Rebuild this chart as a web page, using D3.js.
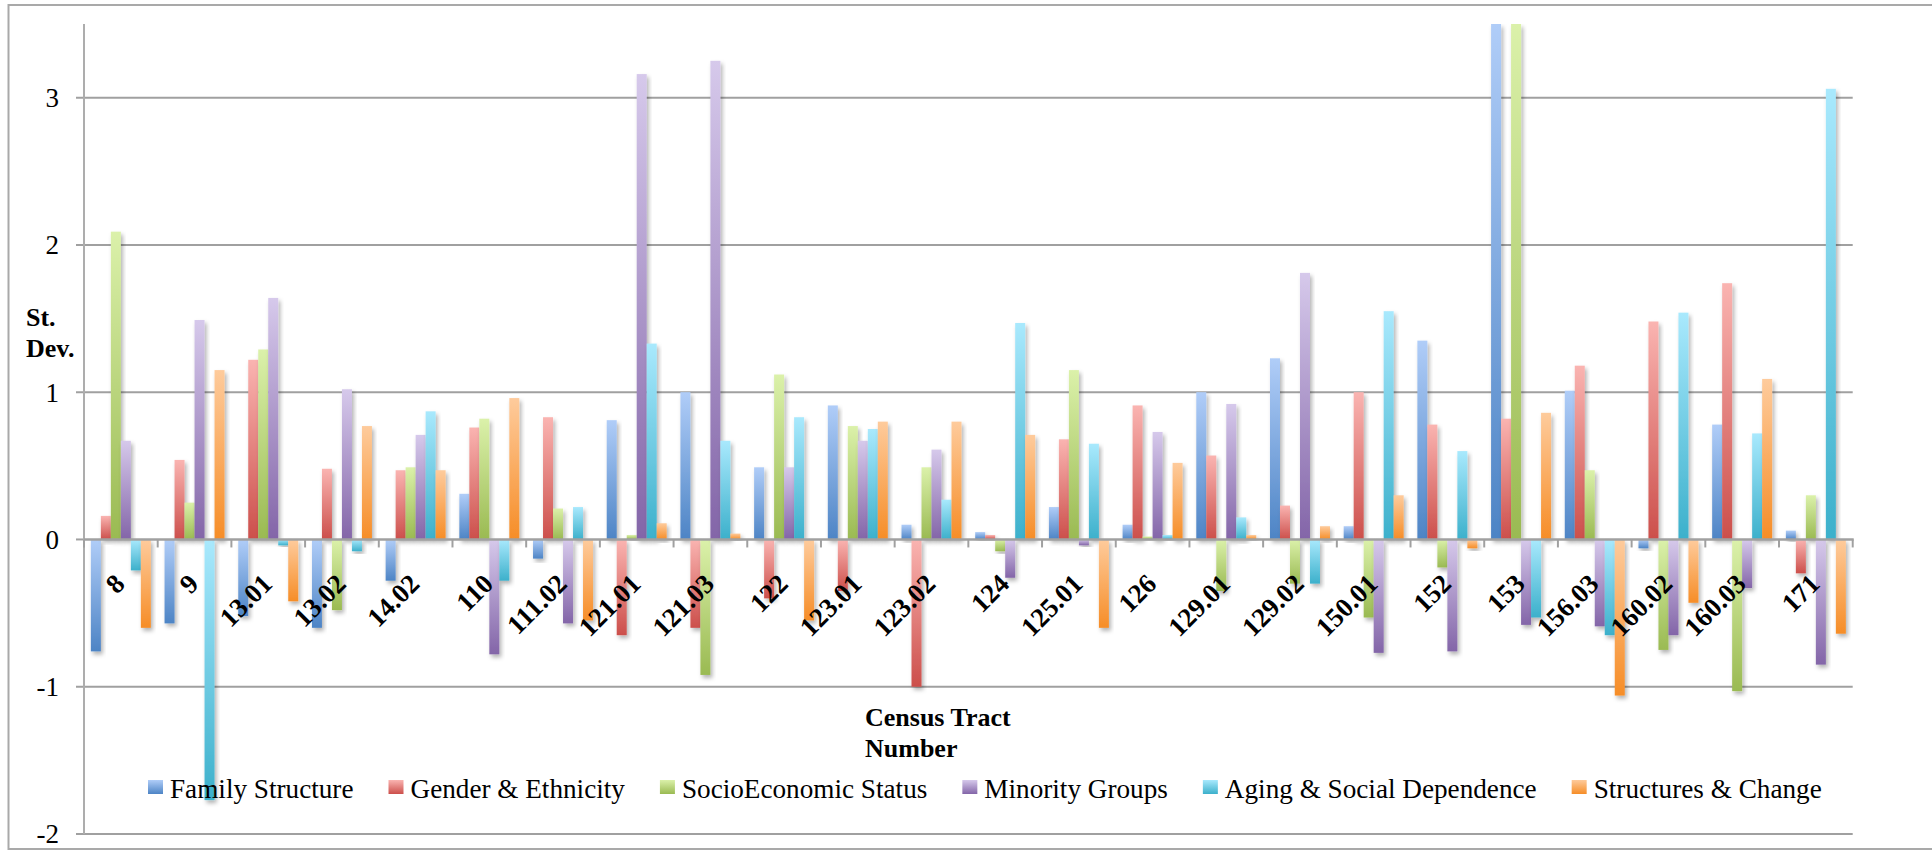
<!DOCTYPE html>
<html>
<head>
<meta charset="utf-8">
<script src="https://cdn.jsdelivr.net/npm/d3@7"></script>
<style>
  html, body { margin: 0; padding: 0; background: #ffffff; }
  svg { display: block; }
</style>
</head>
<body>
<svg id="chart" width="1932" height="850"></svg>
<script>
// Census tract numbers along the x axis
const categories = ["8","9","13.01","13.02","14.02","110","111.02","121.01","121.03","122","123.01","123.02","124","125.01","126","129.01","129.02","150.01","152","153","156.03","160.02","160.03","171"];

// Standardised factor scores (standard deviations) per tract
const familyStructure  = [-0.76,-0.57,-0.52,-0.60,-0.28, 0.31,-0.13, 0.81, 1.00, 0.49, 0.91, 0.10, 0.05, 0.22, 0.10, 1.00, 1.23, 0.09, 1.35, 3.50, 1.01,-0.06, 0.78, 0.06];
const genderEthnicity  = [ 0.16, 0.54, 1.22, 0.48, 0.47, 0.76, 0.83,-0.65,-0.60,-0.40,-0.35,-1.00, 0.03, 0.68, 0.91, 0.57, 0.23, 1.00, 0.78, 0.82, 1.18, 1.48, 1.74,-0.23];
const socioEconomic    = [ 2.09, 0.25, 1.29,-0.48, 0.49, 0.82, 0.21, 0.03,-0.92, 1.12, 0.77, 0.49,-0.08, 1.15, 0.02,-0.35,-0.30,-0.53,-0.19, 3.50, 0.47,-0.75,-1.03, 0.30];
const minorityGroups   = [ 0.67, 1.49, 1.64, 1.02, 0.71,-0.78,-0.57, 3.16, 3.25, 0.49, 0.67, 0.61,-0.26,-0.04, 0.73, 0.92, 1.81,-0.77,-0.76,-0.58,-0.59,-0.65,-0.33,-0.85];
const agingSocial      = [-0.21,-1.77,-0.04,-0.08, 0.87,-0.28, 0.22, 1.33, 0.67, 0.83, 0.75, 0.27, 1.47, 0.65, 0.03, 0.15,-0.30, 1.55, 0.60,-0.53,-0.65, 1.54, 0.72, 3.06];
const structuresChange = [-0.60, 1.15,-0.42, 0.77, 0.47, 0.96,-0.55, 0.11, 0.04,-0.55, 0.80, 0.80, 0.71,-0.60, 0.52, 0.03, 0.09, 0.30,-0.06, 0.86,-1.06,-0.43, 1.09,-0.64];

const seriesNames = ["Family Structure","Gender & Ethnicity","SocioEconomic Status","Minority Groups","Aging & Social Dependence","Structures & Change"];
const seriesValues = [familyStructure, genderEthnicity, socioEconomic, minorityGroups, agingSocial, structuresChange];
const yTicks = [-2, -1, 0, 1, 2, 3];

// Light (top) and dark (bottom) stops of each series' gradient fill
const lightColors = ["#b0cdf8","#fab4b1","#dbf1aa","#d6c9eb","#a9e9fd","#fecb9c"];
const darkColors  = ["#4d84c5","#cc4f4b","#9aba52","#8365a8","#3cb0cb","#f68d27"];

(function draw() {
  const svg = d3.select("#chart");
  const W = 1932;
  const plotLeft = 84, plotRight = 1852.7, plotTop = 24, plotBottom = 834;
  const serif = "'Liberation Serif', 'Times New Roman', serif";

  // outer chart frame
  svg.append("rect")
    .attr("x", 8.5).attr("y", 5)
    .attr("width", W + 20).attr("height", 844)
    .attr("fill", "#ffffff").attr("stroke", "#a9a9a9").attr("stroke-width", 2);

  const defs = svg.append("defs");
  seriesNames.forEach((s, i) => {
    const g = defs.append("linearGradient").attr("id", "grad" + i)
      .attr("x1", 0).attr("y1", 0).attr("x2", 0).attr("y2", 1);
    g.append("stop").attr("offset", "0%").attr("stop-color", lightColors[i]);
    g.append("stop").attr("offset", "100%").attr("stop-color", darkColors[i]);
  });
  const shadow = defs.append("filter").attr("id", "shadow")
    .attr("x", "-50%").attr("y", "-10%").attr("width", "200%").attr("height", "130%");
  shadow.append("feDropShadow").attr("dx", 2).attr("dy", 3).attr("stdDeviation", 2)
    .attr("flood-color", "#000").attr("flood-opacity", 0.3);
  defs.append("clipPath").attr("id", "plotClip")
    .append("rect").attr("x", plotLeft - 2).attr("y", plotTop)
    .attr("width", plotRight - plotLeft + 20).attr("height", plotBottom - plotTop + 20);

  const x0 = d3.scaleBand().domain(categories).range([plotLeft, plotRight])
    .paddingInner(0.186).paddingOuter(0.093);
  const x1 = d3.scaleBand().domain(d3.range(seriesNames.length)).range([0, x0.bandwidth()]);
  const y = d3.scaleLinear().domain([-2, 3.5]).range([plotBottom, plotTop]);

  // horizontal gridlines with short ticks left of the value axis
  const grid = svg.append("g");
  yTicks.filter(t => t !== 0).forEach(t => {
    grid.append("line")
      .attr("x1", plotLeft - 8).attr("x2", plotRight)
      .attr("y1", y(t)).attr("y2", y(t))
      .attr("stroke", "#a0a0a0").attr("stroke-width", 2);
  });
  grid.append("line")
    .attr("x1", plotLeft - 8).attr("x2", plotLeft)
    .attr("y1", y(0)).attr("y2", y(0))
    .attr("stroke", "#a0a0a0").attr("stroke-width", 2);

  // value axis line
  svg.append("line")
    .attr("x1", plotLeft).attr("x2", plotLeft).attr("y1", plotTop).attr("y2", plotBottom)
    .attr("stroke", "#adadad").attr("stroke-width", 2);

  // y tick labels
  svg.append("g").selectAll("text").data(yTicks).join("text")
    .attr("x", 59).attr("y", d => y(d))
    .attr("dy", "0.35em")
    .attr("text-anchor", "end")
    .attr("font-family", serif)
    .attr("font-size", 27)
    .attr("fill", "#000")
    .text(d => d);

  // bars
  const bars = svg.append("g").attr("clip-path", "url(#plotClip)");
  categories.forEach((c, ci) => {
    const grp = bars.append("g").attr("transform", `translate(${x0(c)},0)`);
    seriesValues.forEach((vals, si) => {
      const v = vals[ci];
      grp.append("rect")
        .attr("x", x1(si))
        .attr("y", y(Math.max(0, v)))
        .attr("width", x1.bandwidth())
        .attr("height", Math.abs(y(v) - y(0)))
        .attr("fill", `url(#grad${si})`)
        .attr("filter", "url(#shadow)");
    });
  });

  // category axis at zero, with tick marks between groups
  const xAxisY = y(0);
  svg.append("line")
    .attr("x1", plotLeft).attr("x2", plotRight + 1)
    .attr("y1", xAxisY).attr("y2", xAxisY)
    .attr("stroke", "#a0a0a0").attr("stroke-width", 2.5);
  const step = x0.step();
  svg.append("g").selectAll("line").data(d3.range(categories.length + 1)).join("line")
    .attr("x1", i => plotLeft + i * step).attr("x2", i => plotLeft + i * step)
    .attr("y1", xAxisY).attr("y2", xAxisY + 8)
    .attr("stroke", "#a0a0a0").attr("stroke-width", 2);

  // rotated tract labels
  svg.append("g").selectAll("text").data(categories).join("text")
    .attr("transform", d => `translate(${x0(d) + x0.bandwidth() / 2 + 5.5},${xAxisY + 46}) rotate(-45)`)
    .attr("text-anchor", "end")
    .attr("font-family", serif)
    .attr("font-weight", "bold")
    .attr("font-size", 27)
    .attr("fill", "#000")
    .text(d => d);

  // axis titles
  const yTitle = svg.append("text")
    .attr("font-family", serif)
    .attr("font-weight", "bold").attr("font-size", 26).attr("fill", "#000");
  yTitle.append("tspan").attr("x", 26).attr("y", 326).text("St.");
  yTitle.append("tspan").attr("x", 26).attr("y", 357).text("Dev.");

  const xTitle = svg.append("text")
    .attr("font-family", serif)
    .attr("font-weight", "bold").attr("font-size", 26).attr("fill", "#000");
  xTitle.append("tspan").attr("x", 865).attr("y", 726).text("Census Tract");
  xTitle.append("tspan").attr("x", 865).attr("y", 757).text("Number");

  // legend
  const legend = svg.append("g");
  let lx = 148;
  seriesNames.forEach((name, i) => {
    legend.append("rect")
      .attr("x", lx).attr("y", 780).attr("width", 15).attr("height", 14)
      .attr("fill", `url(#grad${i})`);
    const t = legend.append("text")
      .attr("x", lx + 22).attr("y", 798)
      .attr("font-family", serif)
      .attr("font-size", 27.2)
      .attr("fill", "#000")
      .text(name);
    lx = lx + 22 + t.node().getComputedTextLength() + 35;
  });
})();
</script>
</body>
</html>
